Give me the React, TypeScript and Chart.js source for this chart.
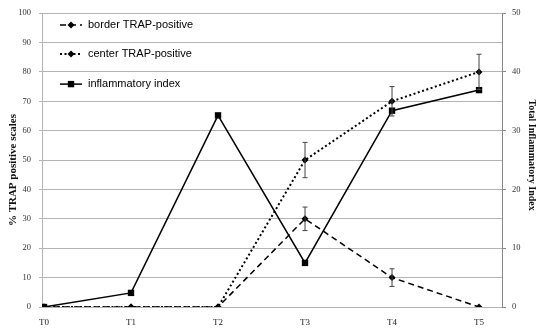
import React, { useEffect, useRef } from 'react';
import { Chart, registerables } from 'chart.js';

Chart.register(...registerables);

const categories = ['T0', 'T1', 'T2', 'T3', 'T4', 'T5'];
const borderTrap = [0, 0, 0, 30, 10, 0];
const borderTrapErr = [0, 0, 0, 4, 3, 0];
const centerTrap = [0, 0, 0, 50, 70, 80];
const centerTrapErr = [0, 0, 0, 6, 5, 6];
const inflammatory = [0, 2.4, 32.6, 7.5, 33.4, 36.9];
const seriesLabels = ['border TRAP-positive', 'center TRAP-positive', 'inflammatory index'];
const leftTicks = [0, 10, 20, 30, 40, 50, 60, 70, 80, 90, 100];
const rightTicks = [0, 10, 20, 30, 40, 50];
const leftTitle = '% TRAP positive scales';
const rightTitle = 'Total Inflammatory Index';

const errorsByDataset = [borderTrapErr, centerTrapErr, null];

const errorBarPlugin = {
  id: 'errorBars',
  afterDatasetsDraw(chart: any) {
    const ctx = chart.ctx;
    ctx.save();
    ctx.strokeStyle = '#444';
    ctx.lineWidth = 1;
    chart.data.datasets.forEach((ds: any, di: number) => {
      const errs = errorsByDataset[di];
      if (!errs) return;
      const meta = chart.getDatasetMeta(di);
      const yScale = chart.scales[ds.yAxisID];
      meta.data.forEach((pt: any, i: number) => {
        const e = errs[i];
        if (!e) return;
        const v = ds.data[i].y;
        const top = yScale.getPixelForValue(v + e);
        const bot = yScale.getPixelForValue(v - e);
        const x = pt.x;
        ctx.beginPath();
        ctx.moveTo(x, top);
        ctx.lineTo(x, bot);
        ctx.moveTo(x - 2.5, top);
        ctx.lineTo(x + 2.5, top);
        ctx.moveTo(x - 2.5, bot);
        ctx.lineTo(x + 2.5, bot);
        ctx.stroke();
      });
    });
    ctx.restore();
  },
};

const axisTitlePlugin = {
  id: 'axisTitles',
  afterDraw(chart: any) {
    const ctx = chart.ctx;
    const area = chart.chartArea;
    const mid = (area.top + area.bottom) / 2;
    ctx.save();
    ctx.fillStyle = '#111';
    ctx.textAlign = 'center';
    ctx.textBaseline = 'middle';
    ctx.font = 'bold 11px "Liberation Serif", "Times New Roman", serif';
    ctx.save();
    ctx.translate(13, mid + 10);
    ctx.rotate(-Math.PI / 2);
    ctx.fillText(leftTitle, 0, 0);
    ctx.restore();
    ctx.font = 'bold 10px "Liberation Serif", "Times New Roman", serif';
    ctx.save();
    ctx.translate(532, mid - 5);
    ctx.rotate(Math.PI / 2);
    ctx.fillText(rightTitle, 0, 0);
    ctx.restore();
    ctx.restore();
  },
};

const legendPlugin = {
  id: 'insideLegend',
  afterDraw(chart: any) {
    const ctx = chart.ctx;
    const area = chart.chartArea;
    ctx.save();
    const x0 = area.left + 18;
    const x1 = area.left + 40;
    const rows = [area.top + 12, area.top + 41, area.top + 71];
    chart.data.datasets.forEach((ds: any, i: number) => {
      const y = rows[i];
      ctx.strokeStyle = '#000';
      ctx.lineWidth = ds.borderWidth;
      ctx.setLineDash(ds.borderDash || []);
      ctx.beginPath();
      ctx.moveTo(x0, y);
      ctx.lineTo(x1, y);
      ctx.stroke();
      ctx.setLineDash([]);
      ctx.fillStyle = '#000';
      const cx = (x0 + x1) / 2;
      const r = ds.pointRadius;
      ctx.beginPath();
      if (ds.pointStyle === 'rect') {
        const s = Math.SQRT1_2 * r;
        ctx.rect(cx - s, y - s, 2 * s, 2 * s);
      } else {
        ctx.moveTo(cx - r, y);
        ctx.lineTo(cx, y - r);
        ctx.lineTo(cx + r, y);
        ctx.lineTo(cx, y + r);
        ctx.closePath();
      }
      ctx.fill();
      ctx.font = '11px "Liberation Sans", Arial, sans-serif';
      ctx.textBaseline = 'middle';
      ctx.textAlign = 'left';
      ctx.fillText(ds.label, x1 + 6, y);
    });
    ctx.restore();
  },
};

const toPoints = (arr: number[]) => arr.map((v, i) => ({ x: i, y: v }));

export default function App() {
  const ref = useRef<HTMLCanvasElement | null>(null);
  useEffect(() => {
    document.body.style.margin = '0';
    const tickFont = { family: '"Liberation Serif", "Times New Roman", serif', size: 8.5 };
    const chart = new Chart(ref.current as HTMLCanvasElement, {
      type: 'line',
      data: {
        datasets: [
          {
            label: seriesLabels[0],
            data: toPoints(borderTrap),
            yAxisID: 'y',
            borderColor: '#000',
            backgroundColor: '#000',
            borderWidth: 1.5,
            borderDash: [6, 4],
            pointStyle: 'rectRot',
            pointRadius: 3.5,
            pointBorderWidth: 0,
          },
          {
            label: seriesLabels[1],
            data: toPoints(centerTrap),
            yAxisID: 'y',
            borderColor: '#000',
            backgroundColor: '#000',
            borderWidth: 2,
            borderDash: [2, 2.5],
            pointStyle: 'rectRot',
            pointRadius: 3.5,
            pointBorderWidth: 0,
          },
          {
            label: seriesLabels[2],
            data: toPoints(inflammatory),
            yAxisID: 'y1',
            borderColor: '#000',
            backgroundColor: '#000',
            borderWidth: 1.5,
            pointStyle: 'rect',
            pointRadius: 4.5,
            pointBorderWidth: 0,
          },
        ] as any,
      },
      options: {
        animation: false,
        responsive: false,
        layout: { padding: { top: 13, left: 0, right: 0, bottom: 0 } },
        plugins: { legend: { display: false }, tooltip: { enabled: false } },
        scales: {
          x: {
            type: 'linear',
            min: -0.023,
            max: 5.264,
            grid: { display: false, drawTicks: false },
            border: { display: false },
            afterBuildTicks: (s: any) => {
              s.ticks = categories.map((_, i) => ({ value: i }));
            },
            afterFit: (s: any) => {
              s.height = 26;
            },
            ticks: {
              autoSkip: false,
              maxRotation: 0,
              padding: 10,
              color: '#222',
              font: { ...tickFont, size: 9 },
              callback: (v: any) => categories[v as number] ?? '',
            },
          },
          y: {
            type: 'linear',
            position: 'left',
            min: 0,
            max: 100,
            afterBuildTicks: (s: any) => {
              s.ticks = leftTicks.map((v) => ({ value: v }));
            },
            afterFit: (s: any) => {
              s.width = 42;
            },
            grid: { color: '#b4b4b4', tickLength: 3, lineWidth: 1 },
            border: { display: true, color: '#b4b4b4' },
            ticks: { color: '#333', font: tickFont, padding: 8 },
          },
          y1: {
            type: 'linear',
            position: 'right',
            min: 0,
            max: 50,
            afterBuildTicks: (s: any) => {
              s.ticks = rightTicks.map((v) => ({ value: v }));
            },
            afterFit: (s: any) => {
              s.width = 48;
            },
            grid: { drawOnChartArea: false, color: '#888', tickLength: 4 },
            border: { display: true, color: '#888', width: 1 },
            ticks: { color: '#333', font: tickFont, padding: 6 },
          },
        },
      } as any,
      plugins: [errorBarPlugin, legendPlugin, axisTitlePlugin],
    });
    return () => chart.destroy();
  }, []);
  return <canvas ref={ref} width={550} height={333} style={{ display: 'block' }} />;
}
